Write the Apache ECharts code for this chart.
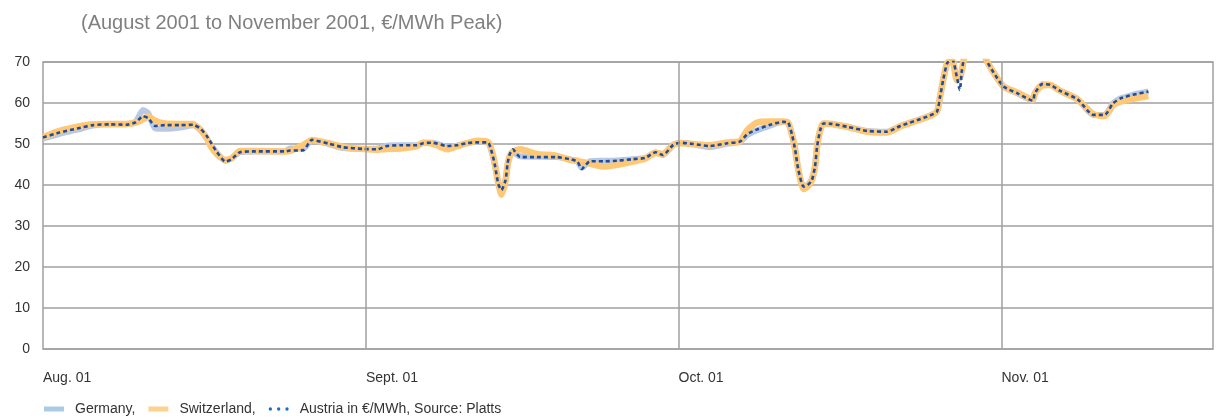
<!DOCTYPE html>
<html>
<head>
<meta charset="utf-8">
<script src="https://cdn.jsdelivr.net/npm/echarts@6/dist/echarts.min.js"></script>
<style>
  html, body { margin: 0; padding: 0; background: #fff; }
  #chart { width: 1223px; height: 417px; }
</style>
</head>
<body>
<div id="chart"></div>
<script>
// Days counted from 1 August 2001
const dayOffsets = [
  0.0, 1.6, 3.3, 4.8, 6.4, 8.0, 8.9, 9.6, 10.1, 10.75,
  11.7, 13.2, 14.4, 15.1, 15.7, 16.2, 16.7, 17.5, 18.1, 18.9,
  20.4, 23.2, 23.7, 25.0, 25.8, 27.4, 28.8, 30.7, 32.1, 33.0,
  34.3, 35.9, 36.5, 37.4, 38.8, 39.7, 40.7, 41.7, 42.7, 43.1,
  43.4, 43.7, 44.0, 44.4, 44.6, 44.8, 45.1, 45.8, 47.4, 49.3,
  50.6, 51.3, 51.7, 52.5, 53.8, 55.1, 56.6, 57.8, 58.8, 59.5,
  60.5, 61.2, 62.4, 64.0, 65.7, 66.9, 67.6, 68.5, 69.8, 71.0,
  71.5, 71.9, 72.2, 72.5, 73.0, 73.4, 73.8, 74.1, 74.3, 74.6,
  74.9, 75.7, 77.2, 79.1, 81.0, 82.3, 84.9, 85.8, 86.1, 86.4,
  86.8, 87.3, 87.7, 88.0, 88.2, 88.6, 89.8, 90.7, 91.4, 92.2,
  93.5, 95.0, 95.2, 95.9, 96.7, 97.6, 99.3, 100.8, 101.9, 102.7,
  103.4, 104.6, 106.1
];

// Peak prices, EUR/MWh
const germany = [
  51.3, 52.5, 53.5, 54.5, 54.8, 54.8, 55.5, 58.3, 57.5, 53.8,
  53.7, 54.0, 54.6, 53.5, 51.4, 49.5, 47.8, 45.9, 46.5, 48.0,
  48.2, 48.2, 48.9, 48.9, 51.0, 50.0, 49.0, 48.8, 48.9, 49.6,
  49.7, 49.7, 50.3, 50.3, 49.3, 49.6, 50.2, 50.6, 50.4, 47.8,
  44.5, 40.5, 38.5, 41.5, 45.0, 47.0, 48.0, 47.0, 46.9, 46.8,
  46.3, 45.8, 44.2, 45.8, 45.9, 46.0, 46.3, 46.6, 48.0, 47.3,
  49.8, 50.3, 49.9, 49.2, 50.1, 50.5, 52.2, 53.3, 54.5, 55.4,
  55.2, 52.2, 48.5, 43.7, 39.6, 40.0, 41.5, 44.5, 49.4, 53.4,
  55.0, 54.9, 54.2, 53.2, 53.0, 54.4, 56.7, 57.9, 61.5, 65.6,
  69.8, 70.2, 66.0, 66.0, 68.0, 72.5, 74.0, 69.7, 66.8, 64.0,
  62.4, 60.6, 62.4, 64.6, 64.4, 63.0, 60.9, 57.1, 57.1, 59.9,
  61.1, 62.0, 62.8
];

const switzerland = [
  51.7, 53.2, 54.2, 54.8, 54.9, 54.9, 55.2, 56.0, 56.7, 55.7,
  55.0, 54.9, 54.9, 53.5, 51.5, 49.0, 47.5, 46.1, 46.5, 48.3,
  48.3, 48.2, 48.3, 49.8, 51.0, 50.2, 49.3, 48.8, 48.6, 48.8,
  48.9, 49.5, 50.3, 50.1, 48.7, 49.4, 50.2, 50.8, 50.5, 48.2,
  44.8, 40.5, 37.6, 41.0, 45.0, 47.0, 48.2, 48.7, 47.6, 47.1,
  46.1, 45.9, 45.6, 45.2, 44.5, 44.9, 45.7, 46.4, 47.8, 47.6,
  49.8, 50.2, 50.0, 49.7, 50.4, 50.7, 53.4, 55.2, 55.5, 55.5,
  55.3, 52.2, 48.5, 43.7, 39.0, 39.6, 41.2, 44.5, 49.4, 53.4,
  55.0, 54.9, 54.2, 53.0, 52.8, 54.3, 56.6, 58.0, 61.5, 65.6,
  69.8, 70.2, 65.6, 66.5, 68.0, 72.5, 74.0, 69.7, 66.8, 64.0,
  62.6, 60.8, 62.4, 64.3, 64.4, 63.0, 60.9, 57.3, 56.8, 59.4,
  60.3, 61.0, 61.7
];

const austria = [
  51.6, 52.8, 53.8, 54.6, 54.8, 54.7, 55.3, 56.8, 56.3, 54.4,
  54.6, 54.6, 54.7, 53.8, 52.0, 50.0, 48.0, 45.7, 46.3, 48.0,
  48.2, 48.2, 48.4, 48.5, 51.0, 50.1, 49.2, 48.8, 48.7, 49.5,
  49.7, 49.7, 50.2, 50.3, 49.5, 49.7, 50.2, 50.4, 50.4, 47.8,
  44.5, 40.2, 38.8, 41.2, 45.4, 47.5, 48.7, 46.8, 46.8, 46.8,
  46.3, 45.7, 43.9, 45.8, 45.8, 45.9, 46.3, 46.6, 48.0, 47.3,
  49.8, 50.3, 50.0, 49.5, 50.2, 50.6, 52.4, 53.5, 54.7, 55.4,
  55.3, 52.2, 48.5, 43.7, 39.6, 40.0, 41.2, 44.5, 49.4, 53.4,
  55.0, 54.9, 54.2, 53.2, 53.0, 54.4, 56.7, 57.9, 61.5, 65.6,
  69.8, 70.5, 66.5, 63.2, 68.0, 72.5, 74.0, 69.7, 66.8, 64.0,
  62.4, 60.6, 62.4, 64.6, 64.4, 63.0, 60.9, 57.1, 57.1, 59.9,
  61.1, 62.0, 62.8
];

// Month boundaries (days from 1 August) and their labels
const monthStarts = [0, 31, 61, 92];
const monthLabels = ['Aug. 01', 'Sept. 01', 'Oct. 01', 'Nov. 01'];
const xMaxDay = 112.3;

const yMin = 0, yMax = 70, yStep = 10;

const seriesNames = ['Germany', 'Switzerland', 'Austria'];
const legendLabels = ['Germany,', 'Switzerland,', 'Austria in \u20ac/MWh, Source: Platts'];
const subtitleText = '(August 2001 to November 2001, \u20ac/MWh Peak)';

const FONT = "'Liberation Sans', Arial, sans-serif";
const GRID_COLOR = '#a0a0a0';

const pair = (vals) => dayOffsets.map((d, i) => [d, vals[i]]);

const chart = echarts.init(document.getElementById('chart'), null, { renderer: 'canvas' });

// three round dots for the Austria legend entry
const dotsIcon = 'path://M0,2a2,2 0 1,0 4,0a2,2 0 1,0 -4,0M10,2a2,2 0 1,0 4,0a2,2 0 1,0 -4,0M20,2a2,2 0 1,0 4,0a2,2 0 1,0 -4,0';

chart.setOption({
  animation: false,
  backgroundColor: '#ffffff',
  title: {
    text: subtitleText,
    left: 76,
    top: 8,
    textStyle: { fontFamily: FONT, fontSize: 20, fontWeight: 'normal', color: '#808080' }
  },
  legend: {
    left: 44,
    top: 402,
    padding: 0,
    itemWidth: 20,
    itemHeight: 5,
    itemGap: 13,
    selectedMode: false,
    textStyle: { fontFamily: FONT, fontSize: 14, color: '#333', padding: [0, 0, 0, 6] },
    formatter: (name) => legendLabels[seriesNames.indexOf(name)],
    data: [
      { name: seriesNames[0], icon: 'rect', itemStyle: { color: '#a9cce4' } },
      { name: seriesNames[1], icon: 'rect', itemStyle: { color: '#fcd38c' } },
      { name: seriesNames[2], icon: dotsIcon, itemStyle: { color: '#1a6cc0' } }
    ]
  },
  grid: {
    left: 43, right: 10, top: 62, bottom: 68,
    show: true, borderColor: GRID_COLOR, borderWidth: 1.5, backgroundColor: 'transparent'
  },
  xAxis: {
    type: 'value',
    min: 0,
    max: xMaxDay,
    axisLine: { show: false },
    axisTick: { show: false },
    splitLine: { show: false },
    axisLabel: {
      customValues: monthStarts,
      formatter: (v) => monthLabels[monthStarts.indexOf(v)] ?? '',
      align: 'left',
      margin: 22,
      fontFamily: FONT,
      fontSize: 14,
      color: '#333'
    }
  },
  yAxis: {
    type: 'value',
    min: yMin,
    max: yMax,
    interval: yStep,
    axisLine: { show: false },
    axisTick: { show: false },
    splitLine: { show: true, lineStyle: { color: GRID_COLOR, width: 1.5 } },
    axisLabel: {
      margin: 13,
      fontFamily: FONT,
      fontSize: 14,
      color: '#333',
      padding: [0, 0, 10, 0]
    }
  },
  series: [
    {
      name: seriesNames[0],
      type: 'line',
      data: pair(germany),
      showSymbol: false,
      symbol: 'none',
      smooth: 0.2,
      z: 1,
      lineStyle: { color: '#b9c9e3', width: 6 },
      itemStyle: { color: '#a9cce4' },
      markLine: {
        silent: true,
        symbol: 'none',
        label: { show: false },
        lineStyle: { color: GRID_COLOR, width: 1.5, type: 'solid' },
        data: monthStarts.slice(1).map((d) => ({ xAxis: d }))
      }
    },
    {
      name: seriesNames[1],
      type: 'line',
      data: pair(switzerland),
      showSymbol: false,
      symbol: 'none',
      smooth: 0.2,
      z: 2,
      lineStyle: { color: '#ffc877', width: 6.5 },
      itemStyle: { color: '#fcd38c' }
    },
    {
      name: seriesNames[2],
      type: 'line',
      data: pair(austria),
      showSymbol: false,
      symbol: 'none',
      smooth: 0.2,
      z: 3,
      lineStyle: { color: '#214c98', width: 2.6, type: [4, 3] },
      itemStyle: { color: '#1a6cc0' }
    }
  ]
});
</script>
</body>
</html>
